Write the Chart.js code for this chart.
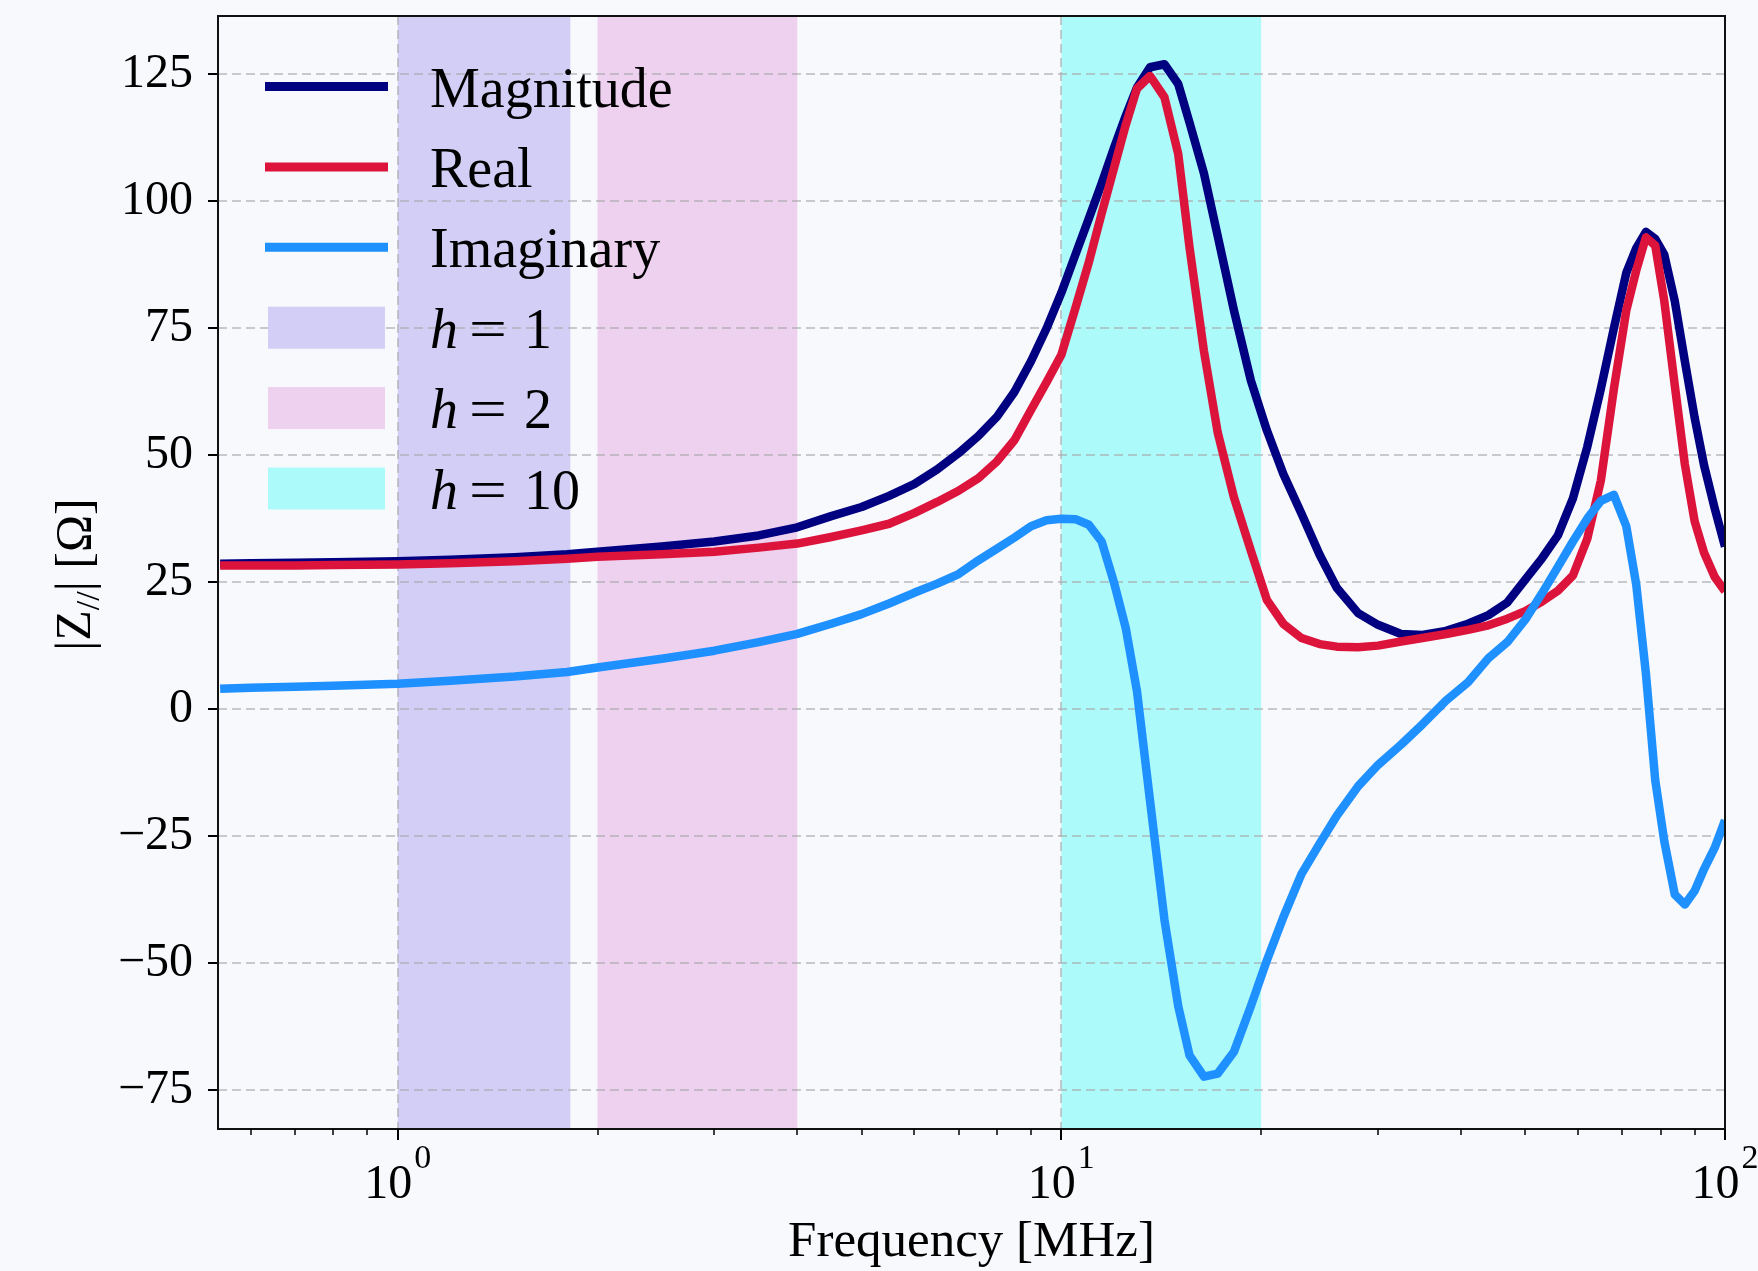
<!DOCTYPE html>
<html>
<head>
<meta charset="utf-8">
<script src="https://cdn.jsdelivr.net/npm/chart.js@4.4.1/dist/chart.umd.min.js"></script>
<style>
  html, body { margin: 0; padding: 0; background: #f8f9fd; }
  canvas { display: block; }
</style>
</head>
<body>
<canvas id="impedanceChart" width="1758" height="1271"></canvas>
<script>
// --- data ---
const freqMHz = [0.54, 0.6, 0.7, 0.8, 1.0, 1.2, 1.5, 1.8, 2.0, 2.5, 3.0, 3.5, 4.0, 4.5, 5.0, 5.5,
  6.0, 6.5, 7.0, 7.5, 8.0, 8.5, 9.0, 9.5, 10.0, 10.5, 11.0, 11.5, 12.0, 12.5, 13.0, 13.6,
  14.3, 15.0, 15.6, 16.4, 17.2, 18.2, 19.3, 20.4, 21.6, 23.0, 24.5, 26.0, 28.0, 30.0, 32.5,
  35.0, 38.0, 41.0, 44.0, 47.0, 50.0, 53.0, 56.0, 59.0, 62.0, 65.0, 68.0, 71.0, 73.5, 76.0,
  78.5, 81.0, 84.0, 87.0, 90.0, 93.0, 96.5, 100.0];

const magnitude = [28.6, 28.7, 28.8, 28.9, 29.1, 29.4, 29.9, 30.5, 31.0, 32.0, 33.0, 34.2, 35.8, 38.0, 39.8, 42.0,
  44.3, 47.2, 50.4, 53.8, 57.6, 62.5, 68.5, 75.0, 82.0, 89.5, 96.6, 103.5, 110.5, 116.8, 122.4, 126.4,
  127.0, 123.1, 115.5, 105.5, 93.2, 78.5, 64.7, 54.9, 46.3, 38.5, 30.4, 23.9, 18.9, 16.6, 14.8,
  14.6, 15.4, 16.8, 18.5, 21.0, 25.5, 29.7, 34.2, 41.5, 51.6, 63.1, 75.0, 85.9, 90.8, 94.0,
  92.6, 89.5, 80.4, 68.5, 57.4, 48.0, 39.5, 32.0];

const realPart = [28.3, 28.3, 28.3, 28.4, 28.5, 28.7, 29.1, 29.6, 30.0, 30.5, 31.0, 31.8, 32.6, 33.9, 35.2, 36.5,
  38.6, 40.8, 43.0, 45.5, 48.8, 53.0, 58.9, 64.4, 69.8, 79.0, 88.0, 97.6, 106.5, 115.0, 122.2, 124.7,
  120.5, 109.3, 90.9, 70.5, 54.5, 41.7, 31.2, 21.5, 16.8, 14.0, 12.8, 12.3, 12.2, 12.5, 13.3,
  14.0, 14.8, 15.6, 16.5, 17.8, 19.3, 21.2, 23.3, 26.3, 33.5, 45.0, 63.0, 78.5, 86.4, 92.9,
  91.3, 80.4, 63.8, 48.2, 37.0, 30.8, 26.0, 23.2];

const imagPart = [4.0, 4.2, 4.4, 4.6, 5.0, 5.6, 6.4, 7.3, 8.2, 9.9, 11.5, 13.2, 14.8, 16.8, 18.7, 20.8,
  22.9, 24.7, 26.6, 29.3, 31.6, 33.8, 36.0, 37.2, 37.5, 37.4, 36.3, 33.0, 25.0, 16.0, 3.5, -18.0,
  -41.5, -58.5, -68.2, -72.4, -71.8, -67.5, -58.5, -49.5, -41.0, -32.5, -26.5, -21.0, -15.2, -11.0, -7.0,
  -3.0, 1.7, 5.3, 10.0, 13.2, 17.6, 22.8, 28.0, 33.0, 37.5, 41.0, 42.2, 36.0, 24.5, 7.0,
  -14.0, -26.0, -36.5, -38.5, -35.8, -31.5, -27.3, -21.9];

const seriesNames = ['Magnitude', 'Real', 'Imaginary'];
const seriesColors = ['#000080', '#dc143c', '#1e90ff'];

// harmonic bands (MHz)
const bandLabels = ['1', '2', '10'];
const bandStart = [1, 2, 10];
const bandEnd = [1.82, 4, 20];
const bandColors = ['#d3cef5', '#eed0ef', '#acfafa'];

const yTicks = [-75, -50, -25, 0, 25, 50, 75, 100, 125];
const xMajorTicks = [1, 10, 100];
const xMinorTicks = [0.6, 0.7, 0.8, 0.9, 2, 3, 4, 5, 6, 7, 8, 9, 20, 30, 40, 50, 60, 70, 80, 90];

const BG = '#f8f9fd';
const SERIF = '"Liberation Serif", "Times New Roman", serif';
const GRID = 'rgba(168, 168, 172, 0.6)';

function isMajor(v) {
  const l = Math.log10(v);
  return Math.abs(l - Math.round(l)) < 1e-6;
}

function toPoints(ys) {
  return freqMHz.map((f, i) => ({ x: f, y: ys[i] }));
}

const decorPlugin = {
  id: 'decor',
  beforeDraw(chart) {
    const { ctx, chartArea: a, scales: { x } } = chart;
    ctx.save();
    ctx.fillStyle = BG;
    ctx.fillRect(0, 0, chart.width, chart.height);
    // axvspan bands
    bandStart.forEach((s, i) => {
      const x0 = x.getPixelForValue(s);
      const x1 = x.getPixelForValue(bandEnd[i]);
      ctx.fillStyle = bandColors[i];
      ctx.fillRect(x0, a.top, x1 - x0, a.bottom - a.top);
    });
    ctx.restore();
  },
  afterDraw(chart) {
    const { ctx, chartArea: a, scales: { x } } = chart;
    ctx.save();

    // spines
    ctx.strokeStyle = '#111';
    ctx.lineWidth = 2;
    ctx.strokeRect(a.left, a.top, a.right - a.left, a.bottom - a.top);

    // x tick marks (major + minor)
    ctx.strokeStyle = '#000';
    xMajorTicks.concat(xMinorTicks).forEach(v => {
      const px = Math.round(x.getPixelForValue(v));
      const major = isMajor(v);
      ctx.lineWidth = major ? 2 : 1.5;
      ctx.beginPath();
      ctx.moveTo(px, a.bottom);
      ctx.lineTo(px, a.bottom + (major ? 11 : 6));
      ctx.stroke();
    });

    // x tick labels 10^n
    ctx.fillStyle = '#000';
    ctx.textBaseline = 'alphabetic';
    ctx.textAlign = 'left';
    xMajorTicks.forEach(v => {
      const px = x.getPixelForValue(v);
      const exp = String(Math.round(Math.log10(v)));
      ctx.font = '48px ' + SERIF;
      const wBase = ctx.measureText('10').width;
      ctx.font = '34px ' + SERIF;
      const wExp = ctx.measureText(exp).width;
      const x0 = px - (wBase + 2 + wExp) / 2;
      ctx.font = '48px ' + SERIF;
      ctx.fillText('10', x0, 1198);
      ctx.font = '34px ' + SERIF;
      ctx.fillText(exp, x0 + wBase + 2, 1168);
    });

    // x title
    ctx.font = '51px ' + SERIF;
    ctx.textAlign = 'center';
    ctx.fillText('Frequency [MHz]', (a.left + a.right) / 2, 1256);

    // y title |Z_{//}| [Ω]
    ctx.save();
    ctx.translate(90, (a.top + a.bottom) / 2 + 2);
    ctx.rotate(-Math.PI / 2);
    ctx.textAlign = 'left';
    const parts = [['|Z', 50, 0], ['//', 34, 9], ['| [Ω]', 50, 0]];
    let total = 0;
    parts.forEach(p => { ctx.font = p[1] + 'px ' + SERIF; total += ctx.measureText(p[0]).width; });
    let cx = -total / 2;
    parts.forEach(p => {
      ctx.font = p[1] + 'px ' + SERIF;
      ctx.fillText(p[0], cx, p[2]);
      cx += ctx.measureText(p[0]).width;
    });
    ctx.restore();

    // legend
    const rowY0 = 86.5, rowStep = 80.4;
    const hx0 = 265, hx1 = 388, textX = 430;
    ctx.textAlign = 'left';
    seriesNames.forEach((name, i) => {
      const cy = rowY0 + i * rowStep;
      ctx.strokeStyle = seriesColors[i];
      ctx.lineWidth = 9;
      ctx.beginPath();
      ctx.moveTo(hx0, cy);
      ctx.lineTo(hx1, cy);
      ctx.stroke();
      ctx.font = '56px ' + SERIF;
      ctx.fillStyle = '#000';
      ctx.fillText(name, textX, cy + 20);
    });
    bandLabels.forEach((lab, j) => {
      const cy = rowY0 + (j + 3) * rowStep;
      ctx.fillStyle = bandColors[j];
      ctx.fillRect(268, cy - 21, 117, 42);
      ctx.fillStyle = '#000';
      ctx.font = 'italic 56px ' + SERIF;
      ctx.fillText('h', textX, cy + 20);
      ctx.font = '56px ' + SERIF;
      // mathtext "=" is wider than the text glyph
      ctx.save();
      ctx.translate(469, cy + 20);
      ctx.scale(1.2, 1);
      ctx.fillText('=', 0, 0);
      ctx.restore();
      ctx.fillText(lab, 524, cy + 20);
    });

    ctx.restore();
  }
};

const datasets = [magnitude, realPart, imagPart].map((ys, i) => ({
  label: seriesNames[i],
  data: toPoints(ys),
  borderColor: seriesColors[i],
  backgroundColor: seriesColors[i],
  borderWidth: 8.5,
  pointRadius: 0,
  tension: 0,
  fill: false,
  borderJoinStyle: 'round',
  order: 3 - i
}));

new Chart(document.getElementById('impedanceChart').getContext('2d'), {
  type: 'line',
  data: { datasets: datasets },
  options: {
    responsive: false,
    animation: false,
    devicePixelRatio: 1,
    layout: { padding: { left: 0, right: 33, top: 16, bottom: 0 } },
    plugins: {
      legend: { display: false },
      tooltip: { enabled: false }
    },
    scales: {
      x: {
        type: 'logarithmic',
        min: 0.536,
        max: 100,
        afterBuildTicks: scale => {
          scale.ticks = xMajorTicks.concat(xMinorTicks).map(v => ({ value: v }));
        },
        afterFit: scale => {
          scale.height = 142;
          scale.paddingLeft = 0;
          scale.paddingRight = 0;
        },
        ticks: { display: false, autoSkip: false },
        grid: {
          color: c => (c.tick && isMajor(c.tick.value)) ? GRID : 'rgba(0,0,0,0)',
          lineWidth: 2,
          drawTicks: false
        },
        border: { display: false, dash: [9, 5] }
      },
      y: {
        type: 'linear',
        min: -82.7,
        max: 136.5,
        afterBuildTicks: scale => {
          scale.ticks = yTicks.map(v => ({ value: v }));
        },
        afterFit: scale => {
          scale.width = 218;
          scale.paddingTop = 0;
          scale.paddingBottom = 0;
        },
        ticks: {
          autoSkip: false,
          color: '#000',
          padding: 15,
          font: { family: SERIF, size: 48 },
          callback: v => v < 0 ? '\u2212' + Math.abs(v) : String(v)
        },
        grid: {
          color: GRID,
          lineWidth: 2,
          tickLength: 10,
          tickColor: '#000',
          tickWidth: 2
        },
        border: { display: false, dash: [9, 5] }
      }
    }
  },
  plugins: [decorPlugin]
});
</script>
</body>
</html>
